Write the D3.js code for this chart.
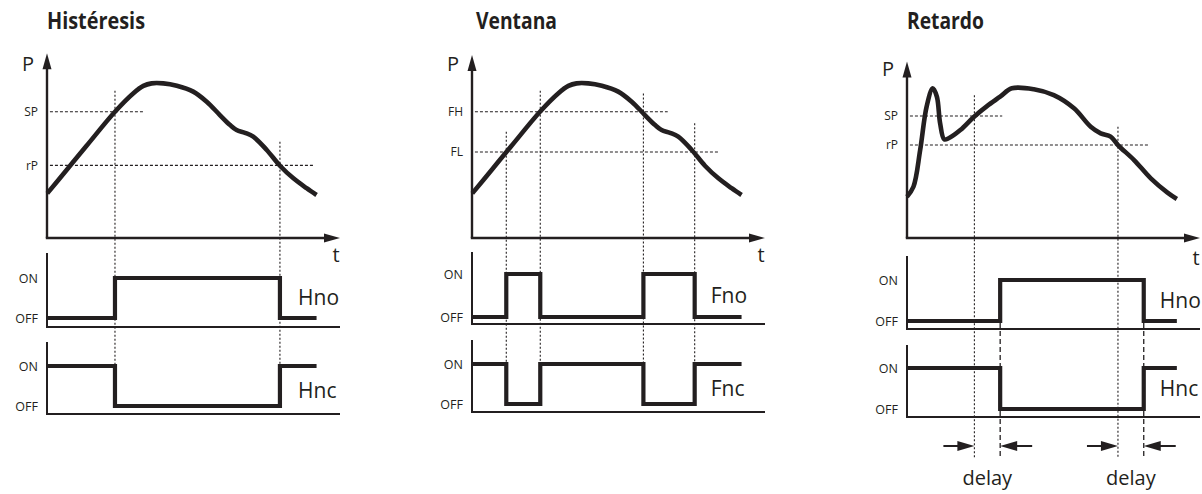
<!DOCTYPE html>
<html>
<head>
<meta charset="utf-8">
<script src="https://cdn.jsdelivr.net/npm/d3@7"></script>
<style>
  body { margin: 0; background: #fff; }
  text { font-family: 'Open Sans', 'Noto Sans', sans-serif; fill: #231f20; }
  .title { font-family: 'Open Sans', 'Noto Sans', sans-serif; font-weight: bold; font-size: 23px; }
</style>
</head>
<body>
<script>
// ---- data (t: 0..100 along the time axis, P: 0..100 up the pressure axis)
var titles      = ['Histéresis', 'Ventana', 'Retardo'];
var levelNames  = [['SP', 'rP'], ['FH', 'FL'], ['SP', 'rP']];
var levelValues = [[69, 39.7], [69, 47], [66.7, 50.8]];
var levelEnds   = [[32.8, 90.8], [66.8, 84.2], [32.5, 82.5]];
var outNames    = [['Hno', 'Hnc'], ['Fno', 'Fnc'], ['Hno', 'Hnc']];
var stateNames  = ['OFF', 'ON'];

// pressure curve used by Histéresis and Ventana
var histCurve = [[0.1, 24.4], [6.7, 37.2], [13.5, 50.4], [23.2, 69], [29.5, 79.1], [32.9, 83.1],
  [35.7, 84.5], [39.7, 84.5], [44.3, 83.2], [49.9, 80], [54.5, 74.5], [59, 67.2], [62.5, 61.7],
  [64.7, 59], [67.6, 57.5], [70.4, 55.4], [75, 48.1], [79.5, 39.5], [84.1, 32.6], [88.6, 27.2], [92, 23.5]];

// pressure curve for Retardo (with the short spike)
var retCurve = [[0, 22.6], [2.2, 28], [4.5, 48.1], [6.7, 71.8], [8.8, 81.8], [10.2, 77.2], [11.3, 62.7],
  [12.7, 53.9], [14.2, 54.5], [18.2, 59], [22.9, 66.3], [27.3, 72.1], [31.8, 77.2], [35.8, 81.8],
  [43.3, 81.3], [50.1, 78.1], [57, 70.9], [62.7, 60.8], [66.1, 57.2], [69.5, 55.4], [72, 50.8],
  [77.5, 42.6], [83.2, 32.6], [88.9, 24.8], [92.1, 21.3]];

var curves = [histCurve, histCurve, retCurve];

// output states (t, 0 = OFF / 1 = ON)
var noSignals = [
  [[0.3, 0], [23.2, 1], [79.5, 0], [92, 0]],
  [[0.3, 0], [11.7, 1], [23.3, 0], [58.5, 1], [76, 0], [92, 0]],
  [[0.3, 0], [31.8, 1], [80.8, 0], [92.1, 0]]
];
var ncSignals = [
  [[0.3, 1], [23.2, 0], [79.5, 1], [92, 1]],
  [[0.3, 1], [11.7, 0], [23.3, 1], [58.5, 0], [76, 1], [92, 1]],
  [[0.3, 1], [31.8, 0], [80.8, 1], [92.1, 1]]
];

// dotted guides where the curve crosses the levels
var guideT    = [[23.2, 79.5], [11.7, 23.3, 58.5, 76], [23, 72]];
var guideTopP = [[80.5, 52.6], [58, 80.5, 79, 62.7], [78, 60.8]];
var delayEndT = [31.8, 80.8];

// ---- layout
var layout = [
  { x0: 47,  titleX: 47,  titleW: 98, topP: 101,  tY: 262, pY: 71, labelT: 85.7, guideBottom: 366,
    sig: [{ top: 253, base: 327, on: 278, off: 318, labelY: 305 },
          { top: 342, base: 414, on: 366, off: 406, labelY: 398 }] },
  { x0: 472, titleX: 476, titleW: 81, topP: 100,  tY: 262, pY: 71, labelT: 81.5, guideBottom: 364,
    sig: [{ top: 252, base: 324, on: 274, off: 317, labelY: 303 },
          { top: 340, base: 412, on: 364, off: 404, labelY: 396 }] },
  { x0: 907, titleX: 907, titleW: 77, topP: 96.5, tY: 265, pY: 76, labelT: 86.3, guideBottom: 458,
    sig: [{ top: 256, base: 329, on: 280, off: 321, labelY: 308 },
          { top: 345, base: 417, on: 368, off: 409, labelY: 396 }] }
];

var ink = '#231f20';

var svg = d3.select('body')
  .append('svg')
    .attr('width', 1202)
    .attr('height', 494);

var yScale = d3.scaleLinear().domain([0, 100]).range([238, 55]);

layout.forEach(function (L, i) {
  var g = svg.append('g');
  var xScale = d3.scaleLinear().domain([0, 100]).range([L.x0, L.x0 + 293]);
  var y0 = yScale(0);

  g.append('text').attr('class', 'title')
    .attr('x', L.titleX).attr('y', 29)
    .attr('textLength', L.titleW).attr('lengthAdjust', 'spacingAndGlyphs')
    .text(titles[i]);

  // threshold lines
  levelValues[i].forEach(function (v, j) {
    g.append('line')
      .attr('x1', xScale(1)).attr('x2', xScale(levelEnds[i][j]))
      .attr('y1', yScale(v)).attr('y2', yScale(v))
      .attr('stroke', ink).attr('stroke-width', 1.1)
      .attr('stroke-dasharray', '3,2');
  });

  // vertical guides
  guideT[i].forEach(function (t, j) {
    g.append('line')
      .attr('x1', xScale(t)).attr('x2', xScale(t))
      .attr('y1', yScale(guideTopP[i][j])).attr('y2', L.guideBottom)
      .attr('stroke', ink).attr('stroke-width', 1.1)
      .attr('stroke-dasharray', '2,2');
  });

  // axes
  var tipY = yScale(L.topP);
  g.append('line')
    .attr('x1', L.x0).attr('x2', L.x0).attr('y1', y0).attr('y2', tipY + 10)
    .attr('stroke', ink).attr('stroke-width', 2.4);
  g.append('path')
    .attr('d', 'M' + L.x0 + ',' + tipY + 'L' + (L.x0 + 4.5) + ',' + (tipY + 16) + 'L' + (L.x0 - 4.5) + ',' + (tipY + 16) + 'Z')
    .attr('fill', ink);
  var tipX = xScale(100);
  g.append('line')
    .attr('x1', L.x0 - 1.2).attr('x2', tipX - 10).attr('y1', y0).attr('y2', y0)
    .attr('stroke', ink).attr('stroke-width', 2.4);
  g.append('path')
    .attr('d', 'M' + tipX + ',' + y0 + 'L' + (tipX - 16) + ',' + (y0 - 4.5) + 'L' + (tipX - 16) + ',' + (y0 + 4.5) + 'Z')
    .attr('fill', ink);

  g.append('text').attr('x', L.x0 - 25).attr('y', L.pY)
    .style('font-size', '20px').text('P');
  g.append('text').attr('x', L.x0 + 289).attr('y', L.tY)
    .attr('text-anchor', 'middle').style('font-size', '20px').text('t');

  var levelAxis = d3.axisLeft(yScale)
    .tickValues(levelValues[i])
    .tickFormat(function (d, j) { return levelNames[i][j]; })
    .tickSize(0).tickPadding(9);
  var la = g.append('g').attr('transform', 'translate(' + L.x0 + ',0)').call(levelAxis);
  la.select('.domain').remove();
  la.selectAll('text').style('font-family', "'Open Sans', sans-serif").style('font-size', '12px').attr('fill', ink);

  // pressure curve
  var line = d3.line()
    .x(function (d) { return xScale(d[0]); })
    .y(function (d) { return yScale(d[1]); })
    .curve(d3.curveCatmullRom.alpha(0.5));
  g.append('path')
    .attr('d', line(curves[i]))
    .attr('fill', 'none').attr('stroke', ink).attr('stroke-width', 4.6);

  // output panels
  [noSignals[i], ncSignals[i]].forEach(function (sig, k) {
    var S = L.sig[k];
    var sScale = d3.scaleLinear().domain([0, 1]).range([S.off, S.on]);

    g.append('path')
      .attr('d', 'M' + L.x0 + ',' + S.top + 'V' + S.base + 'H' + xScale(100))
      .attr('fill', 'none').attr('stroke', ink).attr('stroke-width', 2);

    var sAxis = d3.axisLeft(sScale)
      .tickValues([1, 0])
      .tickFormat(function (d) { return stateNames[d]; })
      .tickSize(0).tickPadding(9);
    var sa = g.append('g').attr('transform', 'translate(' + L.x0 + ',0)').call(sAxis);
    sa.select('.domain').remove();
    sa.selectAll('text').style('font-family', "'Open Sans', sans-serif").style('font-size', '12.5px').attr('fill', ink);

    var step = d3.line()
      .x(function (d) { return xScale(d[0]); })
      .y(function (d) { return sScale(d[1]); })
      .curve(d3.curveStepAfter);
    g.append('path')
      .attr('d', step(sig))
      .attr('fill', 'none').attr('stroke', ink).attr('stroke-width', 4.2)
      .attr('stroke-linejoin', 'miter');

    g.append('text')
      .attr('x', xScale(L.labelT)).attr('y', S.labelY)
      .style('font-size', '21px').text(outNames[i][k]);
  });

  // delay markers for Retardo
  if (i === 2) {
    var ay = 446;
    delayEndT.forEach(function (te, j) {
      g.append('line')
        .attr('x1', xScale(te)).attr('x2', xScale(te))
        .attr('y1', L.sig[0].off + 2).attr('y2', L.guideBottom)
        .attr('stroke', ink).attr('stroke-width', 1.3)
        .attr('stroke-dasharray', '5,3');

      var a = xScale(guideT[i][j]);
      var b = xScale(te);
      g.append('line').attr('x1', a - 31).attr('x2', a - 10).attr('y1', ay).attr('y2', ay)
        .attr('stroke', ink).attr('stroke-width', 2);
      g.append('path')
        .attr('d', 'M' + a + ',' + ay + 'L' + (a - 17) + ',' + (ay - 5) + 'L' + (a - 17) + ',' + (ay + 5) + 'Z')
        .attr('fill', ink);
      g.append('line').attr('x1', b + 10).attr('x2', b + 32).attr('y1', ay).attr('y2', ay)
        .attr('stroke', ink).attr('stroke-width', 2);
      g.append('path')
        .attr('d', 'M' + b + ',' + ay + 'L' + (b + 17) + ',' + (ay - 5) + 'L' + (b + 17) + ',' + (ay + 5) + 'Z')
        .attr('fill', ink);

      g.append('text')
        .attr('x', (a + b) / 2).attr('y', 485)
        .attr('text-anchor', 'middle').style('font-size', '20px').text('delay');
    });
  }
});
</script>
</body>
</html>
